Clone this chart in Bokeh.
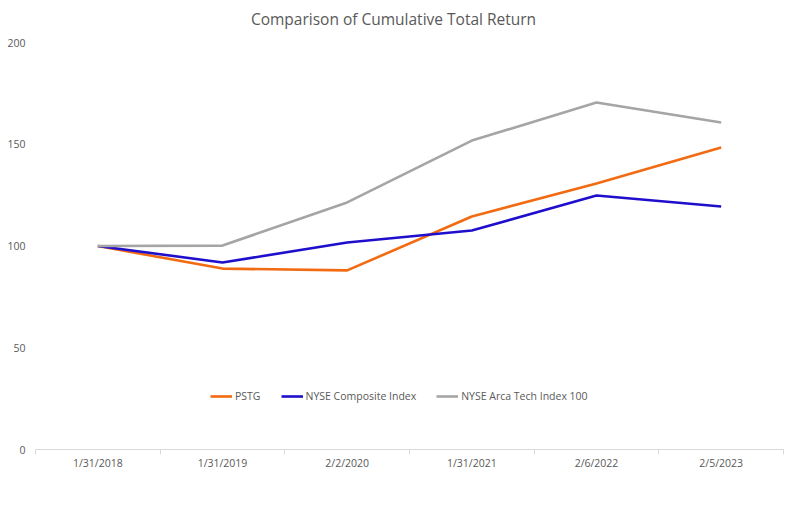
import numpy as np
from bokeh.plotting import figure
from bokeh.models import FixedTicker, Legend, LegendItem, Range1d, Label
from bokeh.embed import file_html
from bokeh.resources import INLINE

dates = ["1/31/2018", "1/31/2019", "2/2/2020", "1/31/2021", "2/6/2022", "2/5/2023"]
pstg = [100.0, 88.9, 88.0, 114.5, 130.7, 148.4]
nyse_comp = [100.0, 91.9, 101.7, 107.6, 124.8, 119.4]
nyse_tech = [100.0, 100.2, 121.4, 151.8, 170.5, 160.7]
y_ticks = [0, 50, 100, 150, 200]

FONT = "Open Sans"
TXT = "#595959"

x = np.arange(len(dates)) + 0.5

# frame spans to the canvas top; headroom above 200 holds the title
p = figure(width=787, height=491, output_backend="svg", toolbar_location=None,
           x_range=Range1d(0, len(dates)), y_range=Range1d(0, 200 * 449 / 407),
           min_border_left=35, min_border_right=4, min_border_bottom=42, min_border_top=0)
p.outline_line_color = None
p.grid.visible = False
p.background_fill_color = "white"

p.add_layout(Label(text="Comparison of Cumulative Total Return", x=358, y=431,
                   x_units="screen", y_units="screen", text_align="center",
                   text_baseline="middle", text_font=FONT, text_font_size="15.5px",
                   text_color=TXT))

r1 = p.line(x, pstg, line_color="#F26B12", line_width=2.6)
r2 = p.line(x, nyse_comp, line_color="#1F0FCC", line_width=2.6)
r3 = p.line(x, nyse_tech, line_color="#A5A5A5", line_width=2.6)

# y axis
p.yaxis.ticker = FixedTicker(ticks=y_ticks)
p.yaxis.axis_line_color = None
p.yaxis.major_tick_line_color = None
p.yaxis.minor_tick_line_color = None
p.yaxis.major_tick_out = 0
p.yaxis.major_tick_in = 0
p.yaxis.major_label_standoff = 10
p.yaxis.major_label_text_font = FONT
p.yaxis.major_label_text_font_size = "10.5px"
p.yaxis.major_label_text_color = TXT

# x axis
p.xaxis.ticker = FixedTicker(ticks=list(x), minor_ticks=list(range(len(dates) + 1)))
p.xaxis.major_label_overrides = {float(v): d for v, d in zip(x, dates)}
p.xaxis.axis_line_color = "#D9D9D9"
p.xaxis.major_tick_line_color = None
p.xaxis.major_tick_out = 0
p.xaxis.major_tick_in = 0
p.xaxis.minor_tick_line_color = "#D9D9D9"
p.xaxis.minor_tick_out = 5
p.xaxis.minor_tick_in = 0
p.xaxis.major_label_standoff = 1
p.xaxis.major_label_text_font = FONT
p.xaxis.major_label_text_font_size = "10.5px"
p.xaxis.major_label_text_color = TXT

legend = Legend(items=[LegendItem(label="PSTG", renderers=[r1]),
                       LegendItem(label="NYSE Composite Index", renderers=[r2]),
                       LegendItem(label="NYSE Arca Tech Index 100", renderers=[r3])],
                orientation="horizontal", location=(175, 46),
                border_line_color=None, background_fill_alpha=0,
                padding=0, margin=0, spacing=20, glyph_width=22, glyph_height=12,
                label_standoff=3, label_text_font=FONT, label_text_font_size="10.5px",
                label_text_color=TXT)
p.add_layout(legend)

open("out.html", "w").write(file_html(p, INLINE))
